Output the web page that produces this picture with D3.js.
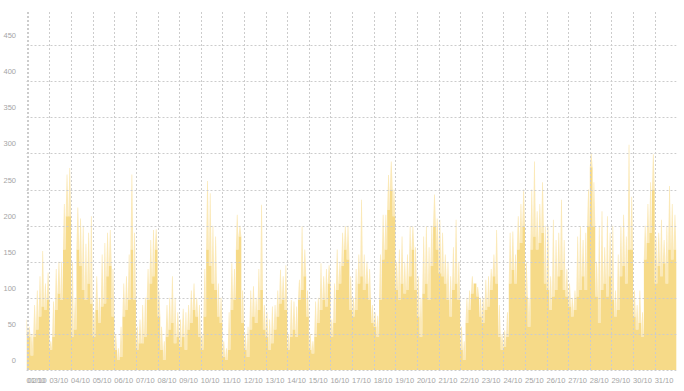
<!DOCTYPE html>
<meta charset="utf-8">
<script src="https://d3js.org/d3.v7.min.js"></script>
<style>
  body { margin: 0; background: #fff; }
  text { font-family: "Liberation Sans", Arial, sans-serif; }
</style>
<body></body>
<script>
// tick labels
var dayLabels = ["01/10","02/10","03/10","04/10","05/10","06/10","07/10","08/10","09/10","10/10",
  "11/10","12/10","13/10","14/10","15/10","16/10","17/10","18/10","19/10","20/10",
  "21/10","22/10","23/10","24/10","25/10","26/10","27/10","28/10","29/10","30/10","31/10"];
var yTicks = [0, 50, 100, 150, 200, 250, 300, 350, 400, 450];

// one reading every 3 hours, first one on 01/10 22:30
var startTime = Date.UTC(2023, 9, 1, 22, 30);
var endTime = Date.UTC(2023, 10, 1, 0, 0);
var stepHours = 3;

// the dense (saturated) part of the area
var bodyLevel = [50,
  46, 20, 46, 56, 74, 88, 83, 97,        // 02/10
  28, 46, 83, 106, 97, 167, 213, 213,    // 03/10
  46, 56, 167, 144, 111, 97, 120, 92,    // 04/10
  46, 83, 65, 88, 92, 130, 144, 74,      // 05/10
  28, 14, 18, 74, 83, 97, 167, 97,       // 06/10
  28, 37, 37, 46, 97, 120, 130, 167,     // 07/10
  74, 28, 14, 46, 56, 65, 37, 46,        // 08/10
  32, 46, 28, 56, 65, 83, 74, 46,        // 09/10
  28, 74, 167, 144, 120, 111, 74, 65,    // 10/10
  18, 14, 28, 83, 97, 167, 185, 65,      // 11/10
  28, 18, 56, 74, 65, 83, 111, 56,       // 12/10
  46, 28, 37, 56, 74, 92, 97, 83,        // 13/10
  28, 46, 56, 46, 97, 111, 130, 74,      // 14/10
  28, 23, 46, 65, 83, 97, 88, 120,       // 15/10
  46, 65, 111, 120, 144, 167, 153, 83,   // 16/10
  74, 83, 120, 130, 111, 120, 97, 65,    // 17/10
  60, 46, 97, 153, 167, 222, 250, 213,   // 18/10
  111, 97, 120, 106, 111, 130, 167, 111, // 19/10
  74, 46, 106, 120, 97, 144, 199, 167,   // 20/10
  134, 130, 120, 97, 74, 111, 120, 97,   // 21/10
  28, 14, 65, 83, 106, 120, 102, 74,     // 22/10
  65, 83, 88, 111, 130, 120, 46, 28,     // 23/10
  32, 46, 120, 139, 120, 167, 176, 199,  // 24/10
  102, 60, 167, 185, 167, 176, 190, 120, // 25/10
  111, 83, 102, 111, 130, 139, 111, 102, // 26/10
  88, 74, 83, 102, 111, 130, 111, 199,   // 27/10
  281, 199, 102, 65, 111, 120, 102, 130, // 28/10
  97, 74, 83, 130, 144, 120, 167, 167,   // 29/10
  74, 56, 65, 46, 153, 176, 190, 250,    // 30/10
  120, 144, 130, 148, 120, 167, 153, 167, // 31/10
  150];

// the thin lighter spikes above it
var peakLevel = [70,
  60, 50, 90, 110, 130, 165, 120, 135,     // 02/10
  40, 95, 140, 150, 150, 230, 271, 280,    // 03/10
  150, 100, 225, 210, 200, 175, 190, 213,  // 04/10
  80, 130, 100, 160, 176, 190, 194, 140,   // 05/10
  50, 30, 60, 120, 130, 160, 271, 190,     // 06/10
  60, 70, 90, 100, 140, 180, 194, 195,     // 07/10
  110, 60, 40, 90, 100, 130, 100, 80,      // 08/10
  70, 85, 80, 90, 110, 120, 100, 90,       // 09/10
  50, 140, 262, 245, 200, 185, 120, 100,   // 10/10
  40, 30, 80, 148, 140, 215, 200, 110,     // 11/10
  50, 60, 110, 116, 100, 140, 229, 90,     // 12/10
  80, 70, 88, 90, 110, 139, 130, 145,      // 13/10
  50, 97, 95, 88, 125, 199, 167, 110,      // 14/10
  50, 40, 95, 100, 148, 130, 140, 145,     // 15/10
  70, 120, 167, 150, 190, 199, 200, 130,   // 16/10
  100, 140, 160, 236, 160, 150, 140, 90,   // 17/10
  80, 75, 160, 215, 215, 270, 289, 250,    // 18/10
  150, 167, 185, 150, 160, 199, 199, 170,  // 19/10
  130, 100, 185, 199, 170, 200, 243, 210,  // 20/10
  208, 190, 160, 150, 130, 170, 208, 150,  // 21/10
  60, 40, 100, 110, 130, 120, 115, 100,    // 22/10
  100, 125, 130, 140, 160, 194, 90, 50,    // 23/10
  55, 80, 190, 192, 160, 213, 230, 250,    // 24/10
  150, 100, 250, 289, 220, 230, 260, 200,  // 25/10
  200, 130, 208, 180, 190, 236, 180, 140,  // 26/10
  120, 100, 110, 185, 199, 180, 190, 250,  // 27/10
  301, 260, 150, 200, 220, 170, 213, 190,  // 28/10
  200, 110, 160, 200, 215, 185, 312, 240,  // 29/10
  110, 90, 110, 80, 200, 230, 260, 299,    // 30/10
  185, 190, 208, 180, 200, 255, 230, 215,  // 31/10
  200];

var width = 684, height = 391;
var plotLeft = 26.5, plotRight = 676.3, plotTop = 12, plotBottom = 370;

var svg = d3.select("body").append("svg")
    .attr("width", width)
    .attr("height", height);

var xScale = d3.scaleUtc()
    .domain([new Date(startTime), new Date(endTime)])
    .range([plotLeft, plotRight]);

var yScale = d3.scaleLinear()
    .domain([0, 496])
    .range([plotBottom, plotTop]);

function timeAt(i) {
  return new Date(startTime + i * stepHours * 3600000);
}

var bodyPoints = bodyLevel.map(function(v, i) { return { t: timeAt(i), v: v }; });

svg.append("clipPath").attr("id", "plot-clip")
  .append("rect")
    .attr("x", plotLeft).attr("y", 0)
    .attr("width", plotRight - plotLeft).attr("height", plotBottom);

var area = d3.area()
    .curve(d3.curveStep)
    .x(function(d) { return xScale(d.t); })
    .y0(yScale(0))
    .y1(function(d) { return yScale(d.v); });

var layers = svg.append("g").attr("clip-path", "url(#plot-clip)");

// thin light spikes, one per reading, rising from the body
layers.selectAll(".spike")
    .data(peakLevel)
  .enter().append("path")
    .attr("class", "spike")
    .attr("d", function(p, i) {
      var x = xScale(timeAt(i));
      var yb = yScale(bodyLevel[i]);
      var yp = yScale(p);
      return "M" + (x - 1.4) + "," + yb + "L" + (x - 0.4) + "," + yp +
             "L" + (x + 0.4) + "," + yp + "L" + (x + 1.4) + "," + yb + "Z";
    })
    .style("fill", "#fbe9b8");

layers.append("path")
    .datum(bodyPoints)
    .attr("d", area)
    .style("fill", "#f6da88");

// grid
var dayTicks = dayLabels.map(function(s, i) {
  return i === 0 ? new Date(startTime) : new Date(Date.UTC(2023, 9, i + 1));
});

var grid = svg.append("g")
    .style("stroke", "#cccccc")
    .style("stroke-width", 1)
    .style("stroke-dasharray", "2,2");

grid.selectAll(".hgrid")
    .data(yTicks)
  .enter().append("line")
    .attr("class", "hgrid")
    .attr("x1", plotLeft).attr("x2", plotRight)
    .attr("y1", function(d) { return Math.round(yScale(d)) + 0.5; })
    .attr("y2", function(d) { return Math.round(yScale(d)) + 0.5; });

grid.selectAll(".vgrid")
    .data(dayTicks)
  .enter().append("line")
    .attr("class", "vgrid")
    .attr("x1", function(d) { return Math.round(xScale(d)) + 0.5; })
    .attr("x2", function(d) { return Math.round(xScale(d)) + 0.5; })
    .attr("y1", plotTop).attr("y2", plotBottom);

// axis labels
svg.selectAll(".ylabel")
    .data(yTicks)
  .enter().append("text")
    .attr("class", "ylabel")
    .attr("x", 16)
    .attr("y", function(d) { return yScale(d) - 7; })
    .attr("text-anchor", "end")
    .style("font-size", "7.5px")
    .style("fill", "#a5a5a5")
    .text(function(d) { return d; });

svg.selectAll(".xlabel")
    .data(dayTicks)
  .enter().append("text")
    .attr("class", "xlabel")
    .attr("x", function(d) { return xScale(d); })
    .attr("y", 383)
    .attr("text-anchor", "start")
    .style("font-size", "7.5px")
    .style("fill", "#a5a5a5")
    .text(function(d, i) { return dayLabels[i]; });
</script>
